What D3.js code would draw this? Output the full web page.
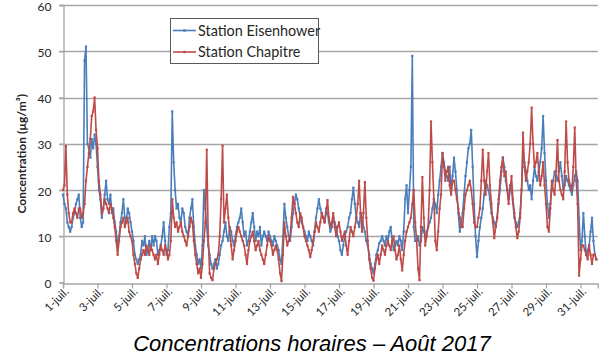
<!DOCTYPE html>
<html>
<head>
<meta charset="utf-8">
<script src="https://cdn.jsdelivr.net/npm/d3@7/dist/d3.min.js"></script>
<style>
  html, body { margin: 0; padding: 0; background: #ffffff; }
  svg { display: block; }
</style>
</head>
<body>
<svg id="chart" width="606" height="361"></svg>
<script>
// Concentrations sampled every 2 hours from 1 July 00:00
const startDate = new Date(2017, 6, 1);
const endDate = new Date(2017, 7, 1);
const stepHours = 2;

const seriesNames = ["Station Eisenhower", "Station Chapitre"];

const eisenhower = [
  19,17, 16,13, 12,11, 12,14, 15,17, 18,19, 14,12, 13,48, 51,30, 29,27,
  31,29, 32,30, 25,20, 18,14, 16,19, 22,18, 17,19, 15,16, 13,11, 8,10,
  13,15, 18,14, 13,16, 15,13, 11,9, 6,5, 4,5, 6,9, 8,10, 6,7,
  9,7, 10,8, 10,9, 6,7, 8,10, 13,9, 6,7, 12,15, 37,26, 20,16,
  17,14, 13,16, 15,12, 11,10, 14,16, 18,12, 8,6, 4,5, 3,8, 20,16,
  12,8, 6,4, 3,4, 5,3, 4,6, 8,9, 11,13, 10,9, 12,11, 9,8,
  10,12, 13,14, 16,13, 10,11, 8,9, 11,13, 15,12, 9,11, 10,12, 8,10,
  11,10, 9,11, 10,9, 8,10, 9,8, 7,5, 4,10, 17,14, 12,10, 9,12,
  15,17, 19,18, 16,14, 13,12, 11,10, 9,11, 10,9, 8,11, 14,16, 18,16,
  15,14, 13,16, 15,13, 11,12, 14,13, 12,10, 9,7, 6,8, 10,11, 12,14,
  15,18, 20.5,17, 14,13, 12,15, 14,12, 11,9, 8,6, 4,3, 2,4, 6,7,
  8.5,9, 10,9, 8,10, 9,11, 12,9, 7,8, 9,8, 10,9, 7,11, 18,21,
  15,20, 25,49, 12,9, 9,10, 8,9, 12,11, 10,11, 12,13, 14,16, 18,17,
  15,19, 22,25, 28,26, 24,23, 22,25, 20,23, 27,24, 20,15, 11,13, 15,19,
  23,26, 29,30, 33,25, 17,10, 5.5,9, 12,14, 16,19, 22,21, 20,18, 15,14,
  13,12, 14,17, 20,24, 27,25, 22,20, 18,21, 20,17, 14,13, 12,13, 15,20,
  28,26, 24,22, 20,21, 18,22, 25,23, 22,24, 26,29, 36,28, 22,17, 14,17,
  20,22, 24,23, 22,24, 26,23, 20,21, 23,22, 21,20, 19,21, 23,24, 22,14,
  7,9, 15,10, 6,7, 8,11, 14,9, 6,5
];

const chapitre = [
  20,21, 29.5,19, 15,13, 13,15, 16,15, 14,16, 16,14, 15,17, 22,25, 28,31,
  36,37, 40,33, 29,22, 19,15, 16,18, 17,16, 15,17, 16,14, 12,9, 6,9,
  12,13, 14,12, 13,14, 11,10, 9,6, 4,2, 1,3, 5,6, 7,6, 8,7,
  6,8, 7,6, 5,6, 4,6, 8,7, 6,8, 7,5, 6,9, 18,14, 12,13,
  11,12, 13,11, 10,9, 8,10, 12,14, 13,9, 6,4, 2,3, 1,4, 9,13,
  28.7,10, 2,1, 0.5,3, 4,5, 6,10, 18,29.6, 13,16, 19,14, 11,8, 5,7,
  9,11, 12,11, 10,9, 8,6, 4,7, 9,10, 11,9, 7,8, 9,7, 6,5,
  4,6, 8,10, 9,8, 6,7, 8,7, 5,2, 0.3,6, 13,10, 8,9, 10,14,
  18.5,17, 15,13, 12,15, 14,12, 10,9, 8,7, 5.5,7, 9,11, 13,12, 11,13,
  15,14, 13,15, 17.8,14, 12,13, 15,12, 10,12, 13,11, 9,10, 11,8, 6,9,
  12,11, 10,12, 14,17, 22,15, 11,15, 21.7,14, 9,5, 3,1, 0.4,3, 5,6,
  4,6, 8,7, 6,8, 9,8, 7,9, 10,7, 5,6, 8,5, 2.6,6, 9,11,
  12,13, 14,17, 20,13, 9,3, 0.5,12, 22.8,14, 8,10, 12,20, 34.8,26, 18,9,
  7,11, 16,19, 28,25, 22,24, 25,21, 19,22, 22,20, 18,16, 14,12, 12,16,
  19,20, 21,22, 20,17, 13,12, 12,14, 16,22, 28.7,22, 19,24, 28,21, 17,13,
  9.6,12, 14,18, 22,25, 27,23, 24,20, 17,20, 23,18, 15,12, 9.6,11, 14,20,
  32.4,25, 22,24, 26,30, 37.8,30, 25,26, 28,24, 21,23, 26,21, 17,12, 11,16,
  22,20, 19,24, 30.8,22, 20,19, 18,24, 34.8,26, 22,21, 20,25, 33.5,22, 17,1.5,
  5,8, 8,7, 6,5, 8,6, 4,6, 6,5
];

const yTicks = [0, 10, 20, 30, 40, 50, 60];
const tickDays = [1, 3, 5, 7, 9, 11, 13, 15, 17, 19, 21, 23, 25, 27, 29, 31];
const monthLabel = "juil.";
const yTitle = "Concentration (µg/m³)";
const chartTitle = "Concentrations horaires – Août 2017";

const colors = ["#4a7ebb", "#be4b48"];

const svg = d3.select("#chart");
const margin = { left: 63, right: 8.25, top: 5, bottom: 78.5 };
const W = 606, H = 361;

const x = d3.scaleTime()
  .domain([startDate, endDate])
  .range([margin.left, W - margin.right]);
const y = d3.scaleLinear()
  .domain([0, 60])
  .range([H - margin.bottom, margin.top]);

const font = "Lato, 'Open Sans', sans-serif";

// horizontal gridlines
svg.append("g")
  .selectAll("line")
  .data(yTicks.filter(v => v > 0))
  .join("line")
  .attr("x1", margin.left - 4)
  .attr("x2", W - margin.right)
  .attr("y1", d => Math.round(y(d)) + 0.5)
  .attr("y2", d => Math.round(y(d)) + 0.5)
  .attr("stroke", "#a6a6a6")
  .attr("stroke-width", 1.3);

// y axis
const yAxis = svg.append("g")
  .attr("transform", `translate(${margin.left + 0.5},0)`)
  .call(d3.axisLeft(y).tickValues(yTicks).tickSize(4).tickPadding(8));
yAxis.select(".domain").attr("stroke", "#a6a6a6").attr("stroke-width", 1.3);
yAxis.selectAll(".tick line").attr("stroke", "#a6a6a6").attr("stroke-width", 1.3);
yAxis.selectAll(".tick text")
  .attr("font-family", font)
  .attr("font-size", 12)
  .attr("dy", "0.42em")
  .attr("fill", "#262626");

// x axis
const tickDates = tickDays.map(d => new Date(2017, 6, d));
const xAxis = svg.append("g")
  .attr("transform", `translate(0,${Math.round(y(0)) + 0.5})`)
  .call(d3.axisBottom(x).tickValues(tickDates).tickSize(5).tickFormat(d => `${d.getDate()}-${monthLabel}`));
xAxis.select(".domain").attr("stroke", "#a6a6a6").attr("stroke-width", 1.3);
xAxis.selectAll(".tick line").attr("stroke", "#a6a6a6").attr("stroke-width", 1.3);
xAxis.selectAll(".tick text")
  .attr("font-family", font)
  .attr("font-size", 11.5)
  .attr("fill", "#262626")
  .attr("text-anchor", "end")
  .attr("dy", "0.35em")
  .attr("transform", "translate(3,6) rotate(-45)")
  .attr("y", 0)
  .attr("x", 0);

// series
const series = [eisenhower, chapitre].map((vals, k) => ({
  name: seriesNames[k],
  color: colors[k],
  points: vals.map((v, i) => ({ date: d3.timeHour.offset(startDate, i * stepHours), value: v }))
}));

const line = d3.line().x(d => x(d.date)).y(d => y(d.value));

const sg = svg.append("g")
  .selectAll("g")
  .data(series)
  .join("g");
sg.append("path")
  .attr("d", d => line(d.points))
  .attr("fill", "none")
  .attr("stroke", d => d.color)
  .attr("stroke-width", 1.6)
  .attr("stroke-linejoin", "round");
sg.selectAll("rect")
  .data(d => d.points.map(p => ({ ...p, color: d.color })))
  .join("rect")
  .attr("x", d => x(d.date) - 1.1)
  .attr("y", d => y(d.value) - 1.1)
  .attr("width", 2.2)
  .attr("height", 2.2)
  .attr("fill", d => d.color);

// legend
const legend = svg.append("g");
legend.append("rect")
  .attr("x", 170.5).attr("y", 18.5)
  .attr("width", 148).attr("height", 45)
  .attr("fill", "#ffffff")
  .attr("stroke", "#595959")
  .attr("stroke-width", 1);
series.forEach((s, k) => {
  const ly = 30.5 + k * 21.5;
  legend.append("line")
    .attr("x1", 173).attr("x2", 196)
    .attr("y1", ly).attr("y2", ly)
    .attr("stroke", s.color).attr("stroke-width", 1.6);
  legend.append("rect")
    .attr("x", 184.5 - 1.2).attr("y", ly - 1.2)
    .attr("width", 2.4).attr("height", 2.4)
    .attr("fill", s.color);
  legend.append("text")
    .attr("x", 198).attr("y", ly)
    .attr("dy", "0.35em")
    .attr("font-family", font)
    .attr("font-size", 14.4)
    .attr("fill", "#262626")
    .text(s.name);
});

// y axis title
svg.append("text")
  .attr("transform", `translate(22,${(y(0) + y(60)) / 2 + 10}) rotate(-90)`)
  .attr("text-anchor", "middle")
  .attr("dy", "0.35em")
  .attr("font-family", font)
  .attr("font-size", 12)
  .attr("font-weight", "bold")
  .attr("fill", "#262626")
  .text(yTitle);

// chart title
svg.append("text")
  .attr("x", 312)
  .attr("y", 351)
  .attr("text-anchor", "middle")
  .attr("font-family", "'Liberation Sans', Arial, sans-serif")
  .attr("font-style", "italic")
  .attr("font-size", 22)
  .attr("fill", "#000000")
  .text(chartTitle);
</script>
</body>
</html>
